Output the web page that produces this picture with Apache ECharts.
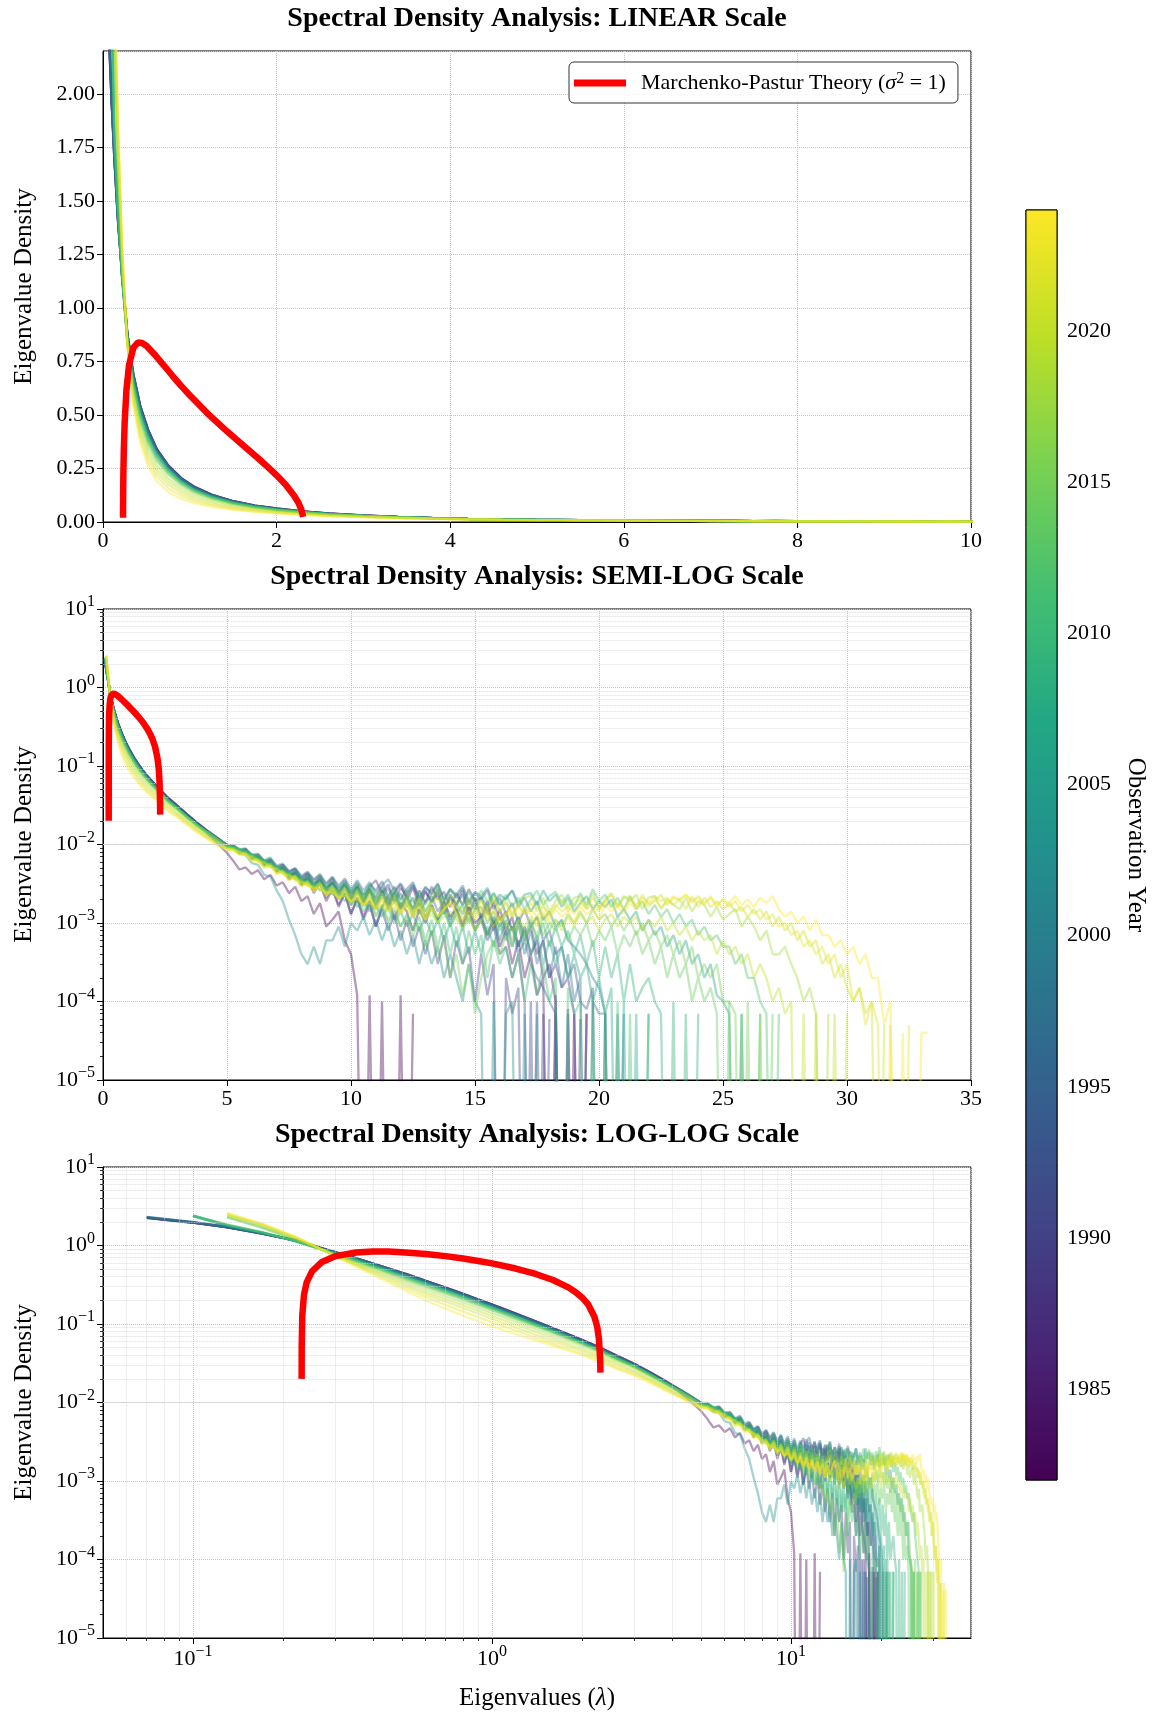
<!DOCTYPE html>
<html><head><meta charset="utf-8">
<script src="https://cdn.jsdelivr.net/npm/echarts@6/dist/echarts.min.js"></script>
<style>html,body{margin:0;padding:0;background:#fff}#c{width:1153px;height:1718px}</style>
</head><body><div id="c"></div>
<script>
// ---------------- DATA ----------------
const lambdaBulk = [0.07,0.1,0.13,0.17,0.22,0.28,0.35,0.43,0.52,0.62,0.75,0.9,1.05,1.25,1.5,1.75,2.0,2.3,2.6,3.0,3.4,3.8,4.2,4.6,5.0];
const lambdaTail = [5.25,5.5,5.75,6,6.25,6.5,6.75,7,7.25,7.5,7.75,8,8.25,8.5,8.75,9,9.25,9.5,9.75,10,
10.25,10.5,10.75,11,11.25,11.5,11.75,12,12.25,12.5,12.75,13,13.25,13.5,13.75,14,14.25,14.5,14.75,15,
15.25,15.5,15.75,16,16.25,16.5,16.75,17,17.25,17.5,17.75,18,18.25,18.5,18.75,19,19.25,19.5,19.75,20,
20.25,20.5,20.75,21,21.25,21.5,21.75,22,22.25,22.5,22.75,23,23.25,23.5,23.75,24,24.25,24.5,24.75,25,
25.25,25.5,25.75,26,26.25,26.5,26.75,27,27.25,27.5,27.75,28,28.25,28.5,28.75,29,29.25,29.5,29.75,30,
30.25,30.5,30.75,31,31.25,31.5,31.75,32,32.25,32.5,32.75,33,33.25,33.5];

const bulk1982 = [2.28,1.97,1.72,1.44,1.17,0.89,0.69,0.54,0.43,0.34,0.265,0.205,0.165,0.128,0.097,0.077,0.063,0.05,0.04,0.031,0.024,0.0185,0.014,0.0105,0.0078];
const tail1982 = [.0062,.0048,.0051,.0042, .0047,.0036,.0041,.0030, .0033,.0024,.0029,.0019, .0022,.0013,.0018,.0009,
 .0011,.0014,.0006,.0004, .00012,0,.00012,0, .0001,0,0,.00012, 0,.00007];
const bulk1984 = [2.27,1.96,1.71,1.43,1.16,0.88,0.69,0.54,0.43,0.34,0.265,0.205,0.165,0.128,0.097,0.077,0.063,0.05,0.04,0.031,0.024,0.0188,0.015,0.0122,0.0098];
const tail1984 = [.0090,.0078,.0083,.0066, .0069,.0055,.0060,.0046, .0050,.0036,.0043,.0031, .0036,.0024,.0032,.0019,
 .0027,.0016,.0024,.0013, .0021,.0012,.0019,.0009, .0016,.0022,.0011,.0018, .0014,.0008,.0015,.0010,
 .0017,.0011,.0019,.0012, .0015,.0009,.0016,.0010, .0012,.0007,.0011,.0005, .0008,.0003,.0006,.0002,
 .0004,.00012,.0002,0, .00012,0,0,.00007, 0,.00007];
const bulk1985 = [2.26,1.96,1.71,1.43,1.16,0.88,0.69,0.54,0.43,0.34,0.266,0.206,0.166,0.128,0.098,0.077,0.063,0.05,0.04,0.031,0.024,0.019,0.015,0.0122,0.0099];
const tail1985 = [.0098,.0081,.0086,.0068, .0072,.0057,.0063,.0046, .0052,.0040,.0046,.0034, .0041,.0029,.0038,.0025,
 .0034,.0022,.0031,.0019, .0029,.0018,.0027,.0016, .0026,.0015,.0024,.0031, .0020,.0028,.0016,.0025,
 .0019,.0027,.0014,.0023, .0017,.0026,.0013,.0021, .0012,.0019,.0009,.0015, .0008,.0012,.0005,.0009,
 .0004,.0006,.0002,.0003, .0001,0,.00008,0, .00006];
const bulk1988 = [2.25,1.95,1.70,1.42,1.16,0.88,0.69,0.54,0.43,0.34,0.263,0.204,0.164,0.127,0.097,0.076,0.062,0.049,0.039,0.030,0.0235,0.0185,0.0148,0.012,0.0099];
const tail1988 = [.0097,.0083,.0088,.0070, .0073,.0060,.0064,.0050, .0055,.0044,.0049,.0037, .0043,.0032,.0039,.0027,
 .0037,.0024,.0033,.0021, .0031,.0019,.0029,.0035, .0024,.0031,.0019,.0028, .0022,.0015,.0026,.0018,
 .0029,.0020,.0025,.0016, .0024,.0017,.0027,.0019, .0021,.0013,.0018,.0011, .0014,.0008,.0012,.0006,
 .0009,.0004,.0006,.0002, .0003,.00015,.0002,.00007, 0,.00007];
const bulk1990 = [2.25,1.95,1.70,1.42,1.15,0.88,0.68,0.53,0.42,0.336,0.26,0.202,0.162,0.125,0.096,0.075,0.061,0.048,0.038,0.030,0.023,0.018,0.0145,0.0117,0.0095];
const tail1990 = [.0092,.0079,.0084,.0066, .0070,.0055,.0061,.0045, .0050,.0037,.0044,.0030, .0038,.0026,.0033,.0021,
 .0028,.0017,.0024,.0013, .0020,.0011,.0017,.0009, .0015,.0008,.0013,.0006, .0011,.0005,.0009,.0004,
 .0008,.0003,.0007,.0002, .0006,.0003,.0005,.0001, .0004,.00012,.0003,0, .0002,.00007,.00015,0,
 .0001,0,.00007,0, .00007,0];
const bulk1991 = [2.24,1.95,1.70,1.42,1.15,0.88,0.68,0.54,0.42,0.335,0.26,0.202,0.162,0.125,0.095,0.075,0.061,0.048,0.039,0.030,0.023,0.018,0.0145,0.0118,0.0096];
const tail1991 = [.0094,.0080,.0085,.0069, .0068,.0058,.0063,.0047, .0053,.0041,.0046,.0034, .0040,.0031,.0036,.0027,
 .0033,.0024,.0031,.0020, .0028,.0017,.0026,.0021, .0029,.0018,.0025,.0015, .0023,.0030,.0019,.0026,
 .0018,.0024,.0013,.0021, .0015,.0010,.0016,.0008, .0011,.0006,.0009,.0004, .0005,.0002,.0004,.0001,
 0,.0001,0,.00006];
const bulk1994 = [2.26,1.96,1.71,1.42,1.15,0.88,0.69,0.54,0.43,0.34,0.264,0.204,0.164,0.127,0.097,0.076,0.062,0.049,0.039,0.031,0.024,0.0185,0.015,0.0121,0.0099];
const tail1994 = [.0097,.0084,.0088,.0072, .0075,.0061,.0066,.0052, .0055,.0045,.0049,.0038, .0044,.0035,.0041,.0031,
 .0038,.0028,.0035,.0025, .0033,.0023,.0031,.0026, .0034,.0022,.0029,.0020, .0027,.0033,.0021,.0029,
 .0023,.0031,.0019,.0027, .0021,.0028,.0017,.0024, .0020,.0026,.0015,.0021, .0013,.0018,.0010,.0015,
 .0009,.0012,.0006,.0008, .0004,.0005,.0002,.0003, .0001,.00008,.00015,0, .00007];
const bulk1997 = [2.3,1.98,1.72,1.43,1.15,0.87,0.68,0.53,0.42,0.333,0.258,0.2,0.16,0.124,0.094,0.074,0.06,0.048,0.038,0.029,0.0228,0.018,0.0145,0.0118,0.0097];
const tail1997 = [.0093,.0082,.0086,.0068, .0071,.0057,.0062,.0047, .0051,.0039,.0044,.0032, .0038,.0027,.0034,.0023,
 .0031,.0020,.0028,.0017, .0025,.0019,.0027,.0015, .0022,.0028,.0018,.0024, .0016,.0021,.0013,.0019,
 .0022,.0014,.0019,.0011, .0017,.0023,.0013,.0018, .0011,.0016,.0008,.0012, .0007,.0009,.0004,.0006,
 .0003,.0002,.00015,.0001, .00007,0,.00007,0];
const bulk1999 = [2.31,1.99,1.73,1.43,1.15,0.87,0.68,0.53,0.42,0.333,0.258,0.2,0.16,0.124,0.095,0.075,0.061,0.048,0.039,0.030,0.023,0.0182,0.0147,0.0119,0.0098];
const tail1999 = [.0095,.0086,.0080,.0073, .0069,.0062,.0057,.0051, .0047,.0043,.0039,.0036, .0034,.0031,.0035,.0029,
 .0032,.0027,.0031,.0024, .0029,.0022,.0027,.0019, .0024,.0017,.0022,.0015, .0020,.0013,.0018,.0012,
 .0017,.0011,.0016,.0010, .0015,.0009,.0014,.0008, .0013,.0007,.0012,.0006, .0011,.0005,.0010,.0004,
 .0008,.0003,.0006,.0002, .0005,.00015,.0004,.0001, .0002,0,.0001,.00007, .00007,0,0,.00007];
const bulk2000 = [2.32,2.0,1.74,1.44,1.15,0.87,0.68,0.53,0.42,0.333,0.258,0.2,0.16,0.124,0.095,0.075,0.061,0.048,0.039,0.030,0.0232,0.0183,0.0148,0.012,0.0099];
const tail2000 = [.0098,.0087,.0089,.0075, .0076,.0063,.0068,.0054, .0057,.0046,.0050,.0040, .0045,.0036,.0042,.0032,
 .0039,.0030,.0037,.0027, .0035,.0026,.0033,.0024, .0030,.0036,.0026,.0032, .0024,.0031,.0021,.0028,
 .0025,.0032,.0020,.0027, .0023,.0030,.0019,.0025, .0022,.0028,.0018,.0023, .0020,.0026,.0016,.0021,
 .0014,.0019,.0011,.0014, .0009,.0011,.0006,.0005, .0004,.0003,.0002,.00015, .00007,0,.00007,0];
const bulk2003 = [null,2.35,1.78,1.46,1.15,0.87,0.67,0.52,0.41,0.325,0.252,0.195,0.156,0.121,0.092,0.073,0.059,0.047,0.037,0.029,0.0225,0.0178,0.0143,0.0116,0.0095];
const tail2003 = [.0090,.0076,.0074,.0058, .0055,.0041,.0039,.0026, .0019,.0011,.0007,.0004, .0003,.0005,.0003,.0006,
 .0006,.0009,.0005,.0010, .0008,.0012,.0007,.0011, .0006,.0010,.0005,.0008, .0004,.0007,.0003,.0006,
 .0003,.0005,.0002,.0004, .0002,.0001,.0003,.0001, .00007,0,.0001,0, .00007,.0001,0,.00007,
 0,.00007];
const bulk2006 = [null,2.38,1.8,1.46,1.14,0.86,0.66,0.51,0.40,0.318,0.247,0.191,0.153,0.119,0.091,0.072,0.059,0.047,0.037,0.029,0.0226,0.0178,0.0144,0.0117,0.0096];
const tail2006 = [.0096,.0083,.0085,.0071, .0071,.0058,.0062,.0048, .0050,.0040,.0044,.0033, .0037,.0029,.0035,.0026,
 .0032,.0024,.0031,.0022, .0029,.0020,.0027,.0018, .0025,.0017,.0024,.0016, .0022,.0015,.0021,.0014,
 .0019,.0025,.0015,.0022, .0017,.0013,.0020,.0015, .0022,.0016,.0024,.0017, .0021,.0026,.0018,.0023,
 .0024,.0017,.0026,.0019, .0023,.0016,.0021,.0014, .0018,.0022,.0015,.0019, .0016,.0020,.0012,.0015,
 .0011,.0014,.0008,.0011, .0007,.0009,.0005,.0007, .0004,.0006,.0003,.0004, .0002,.0003,.00012,.0001,
 .00007,0,.00007,0];
const bulk2007 = [null,2.39,1.81,1.46,1.14,0.86,0.66,0.51,0.40,0.316,0.245,0.19,0.152,0.118,0.09,0.072,0.058,0.046,0.037,0.029,0.0224,0.0177,0.0143,0.0116,0.0095];
const tail2007 = [.0093,.0088,.0078,.0075, .0066,.0063,.0054,.0052, .0045,.0044,.0037,.0037, .0031,.0032,.0026,.0028,
 .0023,.0025,.0019,.0022, .0016,.0020,.0014,.0017, .0012,.0016,.0010,.0014, .0009,.0013,.0008,.0012,
 .0007,.0011,.0006,.0010, .0005,.0009,.0004,.0008, .0004,.0009,.0005,.0010, .0006,.0009,.0005,.0008,
 .0004,.0007,.0003,.0006, .0003,.0005,.0002,.0004, .0002,.0003,.0001,.0002, .00007,.00015,0,.0001,
 0,.00007,0,.00007];
const bulk2009 = [null,2.4,1.82,1.47,1.14,0.85,0.65,0.50,0.39,0.31,0.241,0.187,0.15,0.117,0.089,0.071,0.058,0.046,0.037,0.029,0.0224,0.0176,0.0142,0.0116,0.0095];
const tail2009 = [.0094,.0083,.0084,.0069, .0070,.0058,.0059,.0048, .0049,.0040,.0042,.0034, .0036,.0031,.0033,.0028,
 .0030,.0025,.0032,.0024, .0027,.0021,.0029,.0020, .0024,.0018,.0026,.0017, .0021,.0014,.0019,.0012,
 .0016,.0011,.0015,.0009, .0013,.0017,.0010,.0015, .0016,.0010,.0014,.0009, .0013,.0008,.0012,.0007,
 .0011,.0006,.0010,.0005, .0009,.0005,.0008,.0004, .0007,.0003,.0006,.0002, .0005,.0002,.0004,.0001,
 .0003,.0001,.00015,.0002, .0001,.00007,0,.0001, 0,.00007,0,.00007];
const bulk2011 = [null,2.41,1.84,1.48,1.14,0.85,0.645,0.495,0.385,0.306,0.238,0.185,0.148,0.116,0.088,0.07,0.057,0.046,0.037,0.029,0.0224,0.0177,0.0144,0.0118,0.0097];
const tail2011 = [.0091,.0087,.0077,.0074, .0065,.0061,.0054,.0050, .0045,.0041,.0037,.0034, .0032,.0028,.0030,.0024,
 .0026,.0021,.0024,.0017, .0021,.0014,.0019,.0012, .0016,.0010,.0014,.0009, .0013,.0008,.0012,.0006,
 .0011,.0005,.0010,.0004, .0009,.0003,.0008,.0004, .0007,.0002,.0006,.0003, .0005,.0002,.0004,.0001,
 .0003,.00012,.0003,.0001, .0002,0,.00015,.00007, .0001,0,.00012,0, .00007,0,.0001,0,
 .00007,0,0,.00007];
const bulk2012 = [null,2.42,1.85,1.48,1.14,0.85,0.64,0.49,0.38,0.302,0.235,0.183,0.147,0.115,0.088,0.07,0.057,0.046,0.037,0.029,0.0225,0.0178,0.0145,0.012,0.0099];
const tail2012 = [.0099,.0085,.0087,.0072, .0073,.0061,.0063,.0050, .0053,.0043,.0046,.0036, .0040,.0032,.0038,.0029,
 .0035,.0027,.0033,.0025, .0031,.0023,.0030,.0022, .0028,.0021,.0027,.0019, .0026,.0018,.0025,.0017,
 .0024,.0029,.0019,.0026, .0022,.0017,.0025,.0018, .0026,.0019,.0024,.0017, .0023,.0016,.0021,.0015,
 .0020,.0026,.0017,.0022, .0025,.0018,.0023,.0016, .0024,.0017,.0027,.0019, .0023,.0016,.0021,.0015,
 .0022,.0015,.0019,.0013, .0017,.0012,.0015,.0010, .0013,.0009,.0011,.0007, .0009,.0006,.0007,.0005,
 .0005,.0003,.0004,.0002, .0002,.0001,.00007,0, .00007];
const bulk2014 = [null,null,2.28,1.68,1.19,0.84,0.63,0.48,0.37,0.29,0.226,0.176,0.141,0.11,0.085,0.068,0.056,0.045,0.036,0.028,0.022,0.0174,0.0141,0.0115,0.0094];
const tail2014 = [.0090,.0084,.0076,.0072, .0065,.0060,.0055,.0050, .0046,.0042,.0038,.0035, .0033,.0030,.0031,.0027,
 .0029,.0024,.0027,.0021, .0025,.0019,.0023,.0017, .0021,.0015,.0019,.0014, .0018,.0012,.0016,.0011,
 .0015,.0010,.0014,.0009, .0013,.0008,.0012,.0008, .0011,.0007,.0012,.0008, .0010,.0006,.0011,.0007,
 .0009,.0012,.0007,.0010, .0008,.0011,.0006,.0009, .0007,.0010,.0005,.0008, .0006,.0009,.0004,.0007,
 .0005,.0008,.0004,.0006, .0003,.0005,.0002,.0004, .0002,.0003,.0001,.0002, .0001,.00015,.00007,0,
 .0001,0,.00007,0, 0,.00007,0,.00007];
const bulk2015 = [null,null,2.3,1.7,1.2,0.84,0.62,0.47,0.36,0.285,0.222,0.173,0.139,0.109,0.084,0.067,0.055,0.044,0.035,0.028,0.0218,0.0172,0.014,0.0114,0.0093];
const tail2015 = [.0090,.0079,.0080,.0066, .0066,.0053,.0057,.0044, .0046,.0036,.0040,.0030, .0034,.0026,.0032,.0023,
 .0028,.0021,.0026,.0018, .0024,.0016,.0021,.0013, .0017,.0011,.0015,.0009, .0012,.0007,.0010,.0005,
 .0008,.0004,.0006,.0002, .0004,.00012,.0003,.00007, .0002,.0004,.0006,.0004, .0007,.0005,.0009,.0006,
 .0010,.0007,.0012,.0008, .0011,.0009,.0013,.0010, .0014,.0010,.0015,.0011, .0013,.0009,.0012,.0008,
 .0011,.0007,.0010,.0006, .0008,.0005,.0007,.0004, .0006,.0003,.0005,.0002, .0003,.0002,.0003,.0001,
 .0001,.00007,0,.0001, 0,.00007];
const bulk2018 = [null,null,2.4,1.78,1.22,0.83,0.6,0.45,0.34,0.265,0.205,0.16,0.129,0.101,0.078,0.063,0.052,0.042,0.034,0.027,0.021,0.0167,0.0135,0.011,0.0091];
const tail2018 = [.0089,.0078,.0079,.0064, .0065,.0054,.0056,.0045, .0046,.0038,.0040,.0032, .0034,.0027,.0033,.0025,
 .0030,.0023,.0029,.0021, .0027,.0020,.0026,.0019, .0024,.0018,.0023,.0016, .0022,.0015,.0021,.0014,
 .0020,.0025,.0016,.0022, .0019,.0014,.0021,.0015, .0020,.0015,.0022,.0014, .0019,.0013,.0018,.0021,
 .0022,.0015,.0021,.0014, .0019,.0023,.0016,.0021, .0022,.0016,.0024,.0015, .0020,.0024,.0016,.0022,
 .0019,.0023,.0015,.0021, .0022,.0015,.0020,.0017, .0015,.0021,.0014,.0019, .0017,.0012,.0016,.0011,
 .0013,.0015,.0009,.0012, .0009,.0006,.0008,.0004, .0004,.0005,.0003,.0002, .0001,.00015,.00007,0,
 .00007];
const bulk2020 = [null,null,2.45,1.82,1.25,0.84,0.58,0.43,0.32,0.245,0.19,0.147,0.118,0.093,0.072,0.058,0.048,0.039,0.032,0.025,0.0198,0.0158,0.0128,0.0105,0.0089];
const tail2020 = [.0087,.0081,.0074,.0070, .0062,.0059,.0052,.0049, .0043,.0041,.0036,.0034, .0030,.0029,.0027,.0025,
 .0024,.0021,.0022,.0019, .0020,.0017,.0018,.0015, .0017,.0014,.0016,.0013, .0015,.0012,.0014,.0011,
 .0013,.0010,.0012,.0014, .0011,.0009,.0012,.0008, .0011,.0013,.0009,.0012, .0010,.0008,.0011,.0009,
 .0012,.0009,.0013,.0010, .0011,.0008,.0012,.0009, .0013,.0010,.0012,.0008, .0011,.0013,.0009,.0012,
 .0010,.0012,.0008,.0011, .0009,.0012,.0008,.0010, .0007,.0009,.0006,.0008, .0006,.0007,.0004,.0006,
 .0004,.0005,.0003,.0004, .0002,.0003,.0002,.0001, .00015,.00007,.0001,0, .00007,0,.00007,0,
 0,.00007,0,.00007];
const bulk2021 = [null,null,2.5,1.85,1.27,0.84,0.57,0.41,0.3,0.228,0.175,0.135,0.108,0.085,0.066,0.054,0.045,0.037,0.030,0.024,0.019,0.0153,0.0125,0.0103,0.0088];
const tail2021 = [.0087,.0076,.0077,.0063, .0064,.0052,.0054,.0043, .0045,.0036,.0039,.0030, .0033,.0026,.0031,.0023,
 .0028,.0021,.0027,.0019, .0025,.0018,.0023,.0016, .0022,.0016,.0021,.0014, .0020,.0013,.0019,.0012,
 .0018,.0021,.0014,.0019, .0017,.0012,.0018,.0013, .0019,.0013,.0020,.0014, .0018,.0012,.0017,.0013,
 .0018,.0014,.0017,.0012, .0016,.0020,.0014,.0018, .0020,.0015,.0021,.0016, .0019,.0023,.0016,.0021,
 .0022,.0016,.0023,.0017, .0019,.0023,.0017,.0021, .0020,.0015,.0022,.0016, .0021,.0016,.0019,.0015,
 .0018,.0014,.0016,.0012, .0015,.0011,.0014,.0009, .0012,.0008,.0010,.0006, .0008,.0005,.0006,.0003,
 .0004,.0002,.0003,.00015, .0001,.00015,.00007,.0001, 0,.00005];
const bulk2022 = [null,null,2.55,1.88,1.28,0.83,0.56,0.39,0.28,0.21,0.158,0.122,0.098,0.078,0.061,0.05,0.042,0.035,0.028,0.023,0.0183,0.0147,0.0121,0.01,0.0086];
const tail2022 = [.0085,.0080,.0072,.0069, .0061,.0058,.0051,.0048, .0042,.0040,.0035,.0033, .0030,.0028,.0027,.0024,
 .0025,.0021,.0023,.0019, .0021,.0017,.0020,.0016, .0019,.0015,.0018,.0014, .0017,.0014,.0016,.0013,
 .0016,.0012,.0015,.0018, .0014,.0011,.0015,.0012, .0016,.0013,.0015,.0011, .0014,.0012,.0016,.0013,
 .0015,.0012,.0016,.0013, .0017,.0014,.0016,.0013, .0018,.0015,.0017,.0014, .0019,.0016,.0018,.0015,
 .0020,.0017,.0021,.0018, .0022,.0019,.0021,.0017, .0020,.0023,.0019,.0022, .0018,.0021,.0017,.0020,
 .0016,.0019,.0014,.0017, .0013,.0015,.0011,.0013, .0009,.0010,.0007,.0008, .0005,.0006,.0004,.0005,
 .0003,.0004,.0002,.0003, .0001,.00015,.00005,.0001, .00005,0,.00005,0, 0,.00005];
const bulk2024 = [null,null,2.6,1.92,1.3,0.83,0.54,0.37,0.26,0.19,0.14,0.108,0.088,0.071,0.057,0.047,0.04,0.033,0.027,0.022,0.0175,0.0142,0.0118,0.0098,0.0085];
const tail2024 = [.0084,.0074,.0074,.0061, .0061,.0050,.0053,.0042, .0044,.0035,.0038,.0029, .0032,.0025,.0030,.0022,
 .0027,.0020,.0025,.0018, .0023,.0017,.0021,.0015, .0020,.0014,.0019,.0013, .0018,.0012,.0017,.0011,
 .0016,.0012,.0015,.0018, .0013,.0010,.0014,.0011, .0015,.0011,.0014,.0010, .0013,.0016,.0012,.0015,
 .0013,.0010,.0014,.0011, .0015,.0012,.0014,.0010, .0016,.0013,.0015,.0011, .0017,.0014,.0016,.0013,
 .0018,.0015,.0019,.0016, .0020,.0016,.0018,.0022, .0019,.0023,.0018,.0021, .0017,.0022,.0016,.0020,
 .0018,.0022,.0017,.0020, .0016,.0021,.0018,.0022, .0015,.0012,.0014,.0010, .0012,.0008,.0011,.0007,
 .0007,.0005,.0006,.0004, .0005,.0003,.0004,.0002, .0002,.00005,.0001,0, .00004,0,0,.00004,
 .00004];

const yearRuns = [
  [1982, bulk1982, tail1982], [1984, bulk1984, tail1984], [1985, bulk1985, tail1985], [1988, bulk1988, tail1988],
  [1990, bulk1990, tail1990], [1991, bulk1991, tail1991], [1994, bulk1994, tail1994], [1997, bulk1997, tail1997],
  [1999, bulk1999, tail1999], [2000, bulk2000, tail2000], [2003, bulk2003, tail2003], [2006, bulk2006, tail2006],
  [2007, bulk2007, tail2007], [2009, bulk2009, tail2009], [2011, bulk2011, tail2011], [2012, bulk2012, tail2012],
  [2014, bulk2014, tail2014], [2015, bulk2015, tail2015], [2018, bulk2018, tail2018], [2020, bulk2020, tail2020],
  [2021, bulk2021, tail2021], [2022, bulk2022, tail2022], [2024, bulk2024, tail2024]
];

// Marchenko-Pastur theory curve (sigma^2 = 1)
const mpLambda = [0.23083,0.2310,0.232,0.235,0.24,0.25,0.27,0.30,0.35,0.40,0.45,0.5,0.6,0.7,0.8,0.9,1.0,1.2,1.4,1.6,1.8,1.9,2.0,2.1,2.2,2.25,2.28,2.30,2.305];
const mpDensity = [0.02,0.052,0.127,0.234,0.339,0.469,0.617,0.733,0.814,0.838,0.836,0.823,0.780,0.732,0.683,0.636,0.592,0.509,0.434,0.363,0.293,0.256,0.218,0.176,0.124,0.091,0.063,0.035,0.024];

const yearMin = 1982, yearMax = 2024;
const colorbarTicks = [1985,1990,1995,2000,2005,2010,2015,2020];
const panelTitles = ['Spectral Density Analysis: LINEAR Scale','Spectral Density Analysis: SEMI-LOG Scale','Spectral Density Analysis: LOG-LOG Scale'];

// ---------------- STYLE ----------------
const FF = 'Liberation Serif, Times New Roman, serif';
const viridis = ['#440154','#482475','#414487','#355f8d','#2a788e','#21918c','#22a884','#44bf70','#7ad151','#bddf26','#fde725'];
function hex(c){return [parseInt(c.slice(1,3),16),parseInt(c.slice(3,5),16),parseInt(c.slice(5,7),16)];}
function viridisAt(t){
  t=Math.max(0,Math.min(1,t)); const p=t*(viridis.length-1); const i=Math.min(Math.floor(p),viridis.length-2); const f=p-i;
  const a=hex(viridis[i]), b=hex(viridis[i+1]);
  return 'rgb('+a.map((v,k)=>Math.round(v+(b[k]-v)*f)).join(',')+')';
}
const grids = [
  {left:103, top:51, width:868, height:471},
  {left:103, top:609, width:868, height:471},
  {left:103, top:1167, width:868, height:471},
  {left:1026, top:210, width:31, height:1270}
];
const axisCommon = {
  axisLine:{show:true, onZero:false, lineStyle:{color:'#000', width:1}},
  axisTick:{show:true, inside:false, length:6, lineStyle:{color:'#000', width:1}},
  splitLine:{show:true, lineStyle:{type:'dotted', color:'#c4c4c4', width:1}},
  axisLabel:{color:'#000', fontFamily:FF, fontSize:22, margin:8},
  nameTextStyle:{color:'#000', fontFamily:FF, fontSize:25}
};
const supRich = {
  b:{fontFamily:FF, fontSize:22, color:'#000', lineHeight:30},
  s:{fontFamily:FF, fontSize:16, color:'#000', lineHeight:14, verticalAlign:'top'}
};
function supFmt(v){const e=Math.round(Math.log10(v)); return '{b|10}{s|'+(e<0?'\u2212'+(-e):e)+'}';}
function ax(extra){ const o = JSON.parse(JSON.stringify(axisCommon)); const r = Object.assign(o, extra);
  r.axisLabel = Object.assign(JSON.parse(JSON.stringify(axisCommon.axisLabel)), extra.axisLabel||{});
  r.nameTextStyle = Object.assign(JSON.parse(JSON.stringify(axisCommon.nameTextStyle)), extra.nameTextStyle||{});
  return r; }

// minor tick positions for the log axes
const minorY = []; for (let e=-5;e<=0;e++) for (let d=2;d<=9;d++) minorY.push(Number((d*Math.pow(10,e)).toPrecision(3)));
const minorX = []; for (let e=-2;e<=1;e++) for (let d=2;d<=9;d++){const v=Number((d*Math.pow(10,e)).toPrecision(3)); if(v>0.05&&v<40) minorX.push(v);}
function minorAxis(gridIndex, isX, min, max, vals){
  return {gridIndex, type:'log', logBase:10, min, max, position:isX?'bottom':'left', offset:0,
    axisLine:{show:false}, axisLabel:{show:false}, splitLine:{show:false},
    axisTick:{show:true, inside:false, length:3, lineStyle:{color:'#000', width:0.8}, customValues:vals}};
}

const xAxes = [
  ax({gridIndex:0, type:'value', min:0, max:10, interval:2}),
  ax({gridIndex:1, type:'value', min:0, max:35, interval:5}),
  ax({gridIndex:2, type:'log', logBase:10, min:0.05, max:40, name:'Eigenvalues ({it|\u03bb})', nameLocation:'middle', nameGap:48,
      nameTextStyle:{rich:{it:{fontFamily:FF, fontSize:25, fontStyle:'italic', color:'#000'}}},
      axisLabel:{formatter:supFmt, rich:supRich, showMinLabel:false, showMaxLabel:false, margin:6}}),
  {gridIndex:3, type:'value', min:0, max:1, show:false},
  minorAxis(2, true, 0.05, 40, minorX)
];
const yAxes = [
  ax({gridIndex:0, type:'value', min:0, max:2.2, interval:0.25, name:'Eigenvalue Density', nameLocation:'middle', nameGap:66,
      axisLabel:{formatter:v=>v.toFixed(2), showMaxLabel:false}}),
  ax({gridIndex:1, type:'log', logBase:10, min:1e-5, max:10, name:'Eigenvalue Density', nameLocation:'middle', nameGap:66,
      axisLabel:{formatter:supFmt, rich:supRich}}),
  ax({gridIndex:2, type:'log', logBase:10, min:1e-5, max:10, name:'Eigenvalue Density', nameLocation:'middle', nameGap:66,
      axisLabel:{formatter:supFmt, rich:supRich}}),
  {gridIndex:3, type:'value', position:'right', min:yearMin, max:yearMax, name:'Observation Year', nameLocation:'middle',
   nameRotate:-90, nameGap:66, nameTextStyle:{color:'#000', fontFamily:FF, fontSize:25},
   axisLine:{show:false}, splitLine:{show:false},
   axisTick:{show:true, length:6, lineStyle:{color:'#000'}, customValues:colorbarTicks},
   axisLabel:{color:'#000', fontFamily:FF, fontSize:22, margin:10, customValues:colorbarTicks, formatter:v=>String(v)}},
  minorAxis(1, false, 1e-5, 10, minorY),
  minorAxis(2, false, 1e-5, 10, minorY)
];

function gridLines(p, xs, ys){
  return {type:'line', xAxisIndex:p, yAxisIndex:p, data:[], silent:true, z:1, animation:false,
    markLine:{silent:true, symbol:['none','none'], label:{show:false}, animation:false,
      lineStyle:{type:'dotted', color:'#d6d6d6', width:0.8},
      data:[...xs.map(v=>({xAxis:v})), ...ys.map(v=>({yAxis:v}))]}};
}

const series = [gridLines(1, [], minorY), gridLines(2, minorX, minorY)];
for (let p=0;p<3;p++){
  for (const [yr, bulk, tail] of yearRuns){
    const pts=[];
    bulk.forEach((v,i)=>{ if(v!==null) pts.push([lambdaBulk[i], (p>0&&v===0)?1e-9:v]); });
    tail.forEach((v,i)=>{ pts.push([lambdaTail[i], (p>0&&v===0)?1e-9:v]); });
    series.push({type:'line', name:String(yr)+'_'+p, xAxisIndex:p, yAxisIndex:p, data:pts, symbol:'none', showSymbol:false,
      silent:true, z:2, clip:true, animation:false,
      lineStyle:{color:viridisAt((yr-yearMin)/(yearMax-yearMin)), width:2.3, opacity:0.4}});
  }
  series.push({type:'line', name:'Marchenko-Pastur Theory', xAxisIndex:p, yAxisIndex:p,
    data:mpLambda.map((x,i)=>[x, mpDensity[i]]), symbol:'none', showSymbol:false, silent:true, z:5, clip:true, animation:false,
    itemStyle:{color:'#ff0000'}, lineStyle:{color:'#ff0000', width:6.5}});
}

const chart = echarts.init(document.getElementById('c'), null, {renderer:'canvas'});
chart.setOption({
  backgroundColor:'#fff',
  animation:false,
  title: panelTitles.map((t,i)=>({text:t, left:537, top:[5,563,1121][i], textAlign:'center', padding:0,
    textStyle:{fontFamily:FF, fontSize:28, fontWeight:'bold', color:'#000'}})),
  grid: grids.map(g=>Object.assign({show:true, borderColor:'#000', borderWidth:1, containLabel:false, outerBoundsMode:'none'}, g)),
  xAxis: xAxes,
  yAxis: yAxes,
  legend:{data:['Marchenko-Pastur Theory'], left:569, top:62, icon:'rect', itemWidth:52, itemHeight:7,
    padding:[9,12,9,5], borderColor:'#333', borderWidth:1, borderRadius:5, backgroundColor:'rgba(255,255,255,0.85)',
    selectedMode:false,
    formatter:()=>'Marchenko-Pastur Theory ({i|\u03c3}{sup|2}{n| = 1})',
    textStyle:{fontFamily:FF, fontSize:22, color:'#000', padding:[0,0,0,10],
      rich:{i:{fontFamily:FF, fontSize:22, fontStyle:'italic', color:'#000', lineHeight:24},
            sup:{fontFamily:FF, fontSize:16, color:'#000', lineHeight:12, verticalAlign:'top'},
            n:{fontFamily:FF, fontSize:22, color:'#000', lineHeight:24}}}},
  graphic:[{type:'rect', shape:{x:1026, y:210, width:31, height:1270}, z:10,
    style:{fill:new echarts.graphic.LinearGradient(0,0,0,1, viridis.slice().reverse().map((c,i,a)=>({offset:i/(a.length-1), color:c}))),
      stroke:'#000', lineWidth:1}}],
  series: series
});
</script></body></html>
